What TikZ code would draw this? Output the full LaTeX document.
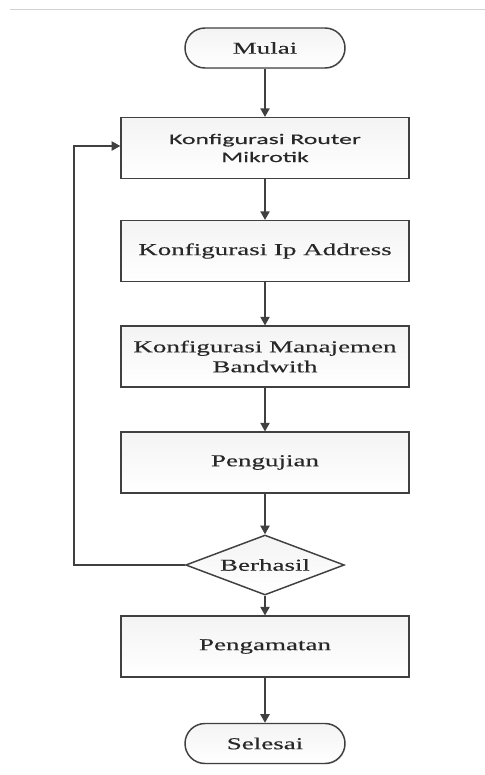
\documentclass[tikz,border=0pt]{standalone}
\usepackage{fontspec}
\setmainfont[FakeStretch=1.62,FakeBold=0.3]{Liberation Serif}
\newfontfamily\routerfont[FakeStretch=1.75,FakeBold=0.3]{Carlito}
\usetikzlibrary{arrows.meta,shapes.geometric,shadows}

\definecolor{garis}{RGB}{64,64,64}
\definecolor{teks}{RGB}{40,40,40}
\tikzset{every picture/.style={line width=0.75pt}}
\tikzset{
  proses/.style={draw=garis, line width=1.1pt, top color=gray!9, bottom color=white,
    drop shadow={opacity=0.12, shadow xshift=0.8pt, shadow yshift=-0.8pt},
    minimum width=216pt, minimum height=45.5pt, inner sep=2pt, align=center,
    text=teks, font=\fontsize{12.5}{15}\selectfont},
  terminal/.style={draw=garis, line width=1.1pt, rounded corners=15pt, top color=gray!9, bottom color=white,
    drop shadow={opacity=0.12, shadow xshift=0.8pt, shadow yshift=-0.8pt},
    minimum width=120pt, minimum height=30pt, inner sep=0pt, text=teks, font=\fontsize{12.5}{15}\selectfont},
  keputusan/.style={draw=garis, line width=1.1pt, diamond, aspect=2.65, top color=gray!9, bottom color=white,
    minimum width=119pt, minimum height=45pt, inner sep=0pt, text=teks, font=\fontsize{12.5}{15}\selectfont},
  panah/.style={draw=garis, line width=1.1pt, -{Triangle[length=6.5pt,width=7pt]}},
}

\begin{document}
\begin{tikzpicture}[x=0.75pt,y=0.75pt,yscale=-1,xscale=1]
	\useasboundingbox (0,0) rectangle (485,775);
	%Straight Lines (garis atas)
	\draw [color=gray!35, line width=0.8pt]  (10,9.5) -- (485,9.5) ;

	%Shape: Terminal Mulai
	\node [terminal] (mulai) at (265,48) {Mulai};
	%Shape: Rectangle Router
	\node [proses, font=\routerfont\fontsize{11}{13.5}\selectfont] (router) at (265,148) {Konfigurasi Router\\Mikrotik};
	%Shape: Rectangle IP
	\node [proses] (ip) at (265,251) {Konfigurasi Ip Address};
	%Shape: Rectangle Bandwith
	\node [proses] (bandwith) at (265,356.5) {Konfigurasi Manajemen\\Bandwith};
	%Shape: Rectangle Pengujian
	\node [proses] (uji) at (265,462.5) {Pengujian};
	%Shape: Diamond Berhasil
	\node [keputusan] (berhasil) at (265,565) {Berhasil};
	%Shape: Rectangle Pengamatan
	\node [proses] (amat) at (265,646.5) {Pengamatan};
	%Shape: Terminal Selesai
	\node [terminal] (selesai) at (265,743.5) {Selesai};

	%Straight Lines
	\draw [panah] (mulai) -- (router) ;
	\draw [panah] (router) -- (ip) ;
	\draw [panah] (ip) -- (bandwith) ;
	\draw [panah] (bandwith) -- (uji) ;
	\draw [panah] (uji) -- (berhasil) ;
	\draw [panah] (berhasil) -- (amat) ;
	\draw [panah] (amat) -- (selesai) ;
	%Straight Lines (ulang)
	\coordinate (belok) at (74,565) ;
	\draw [panah] (berhasil.west) -- (belok) |- ([yshift=-1.5pt]router.west) ;

\end{tikzpicture}
\end{document}
